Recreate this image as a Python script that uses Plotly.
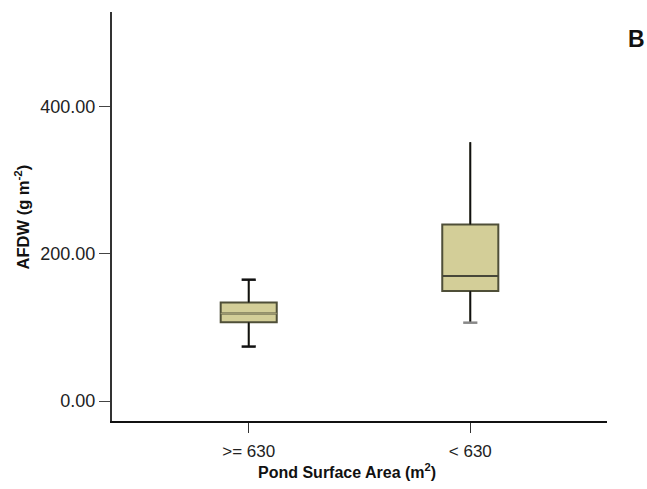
import plotly.graph_objects as go

# Box-plot summary of AFDW by pond surface-area group
groups = [">= 630", "< 630"]
lower_whisker = [74.0, 106.5]
q1 = [107.0, 149.5]
median = [119.0, 170.0]
q3 = [134.0, 240.0]
upper_whisker = [165.0, 352.0]
# which whisker ends carry a cap: (lower, upper)
caps = [(True, True), (True, False)]

y_ticks = [0, 200, 400]

FILL = "#D3CE98"
EDGE = "#4f4f38"
median_colors = ["#9c9870", "#45453a"]
cap_colors = ["#111111", "#888888"]
FONT = "Liberation Sans, Arial, sans-serif"

fig = go.Figure()
xs = list(range(len(groups)))
for i in xs:
    fig.add_trace(go.Box(
        x=[i], q1=[q1[i]], median=[median[i]], q3=[q3[i]],
        lowerfence=[lower_whisker[i]], upperfence=[upper_whisker[i]],
        width=0.253, whiskerwidth=0, fillcolor=FILL,
        line=dict(color=EDGE, width=2), boxpoints=False,
        showlegend=False, hoverinfo="skip",
    ))
    # whisker stems in black over the box outline colour
    fig.add_trace(go.Scatter(
        x=[i, i, None, i, i],
        y=[lower_whisker[i], q1[i], None, q3[i], upper_whisker[i]],
        mode="lines", line=dict(color="#111111", width=1.6),
        showlegend=False, hoverinfo="skip",
    ))
    # median line
    fig.add_trace(go.Scatter(
        x=[i - 0.1265, i + 0.1265], y=[median[i], median[i]],
        mode="lines", line=dict(color=median_colors[i], width=1.6),
        showlegend=False, hoverinfo="skip",
    ))
    # whisker caps
    hw = 0.032
    lo, hi = caps[i]
    if lo:
        fig.add_trace(go.Scatter(
            x=[i - hw, i + hw], y=[lower_whisker[i]] * 2, mode="lines",
            line=dict(color=cap_colors[i], width=2.5),
            showlegend=False, hoverinfo="skip"))
    if hi:
        fig.add_trace(go.Scatter(
            x=[i - hw, i + hw], y=[upper_whisker[i]] * 2, mode="lines",
            line=dict(color=cap_colors[i], width=2.5),
            showlegend=False, hoverinfo="skip"))

fig.update_layout(
    width=647, height=489,
    margin=dict(l=112, r=40, t=12, b=68),
    paper_bgcolor="white", plot_bgcolor="white",
    font=dict(family=FONT, size=16, color="#222222"),
    xaxis=dict(
        range=[-0.617, 1.617], tickvals=xs, ticktext=groups,
        showline=True, linecolor="#111111", linewidth=2,
        ticks="outside", ticklen=10, tickcolor="#333333", tickwidth=1,
        ticklabelstandoff=4,
        showgrid=False, zeroline=False,
        tickfont=dict(size=17, color="#222222"),
    ),
    yaxis=dict(
        range=[-27.2, 529], tickvals=y_ticks,
        ticktext=[f"{v:.2f}" for v in y_ticks],
        showline=True, linecolor="#333333", linewidth=2,
        ticks="outside", ticklen=11, tickcolor="#444444", tickwidth=1,
        showgrid=False, zeroline=False,
        tickfont=dict(size=18, color="#222222"),
    ),
    annotations=[
        dict(text="<b>Pond Surface Area (m<sup>2</sup>)</b>",
             xref="paper", yref="paper", x=0.475, y=-0.122,
             xanchor="center", yanchor="middle", showarrow=False,
             font=dict(size=16, color="#111111")),
        dict(text="<b>AFDW (g m<sup>-2</sup>)</b>",
             xref="paper", yref="paper", x=-0.182, y=0.5,
             xanchor="center", yanchor="middle", showarrow=False,
             textangle=-90, font=dict(size=16.5, color="#111111")),
        dict(text="<b>B</b>", xref="paper", yref="paper",
             x=1.059, y=0.934, xanchor="center", yanchor="middle",
             showarrow=False, font=dict(size=23, color="#111111")),
    ],
)

fig.write_html("out.html")
